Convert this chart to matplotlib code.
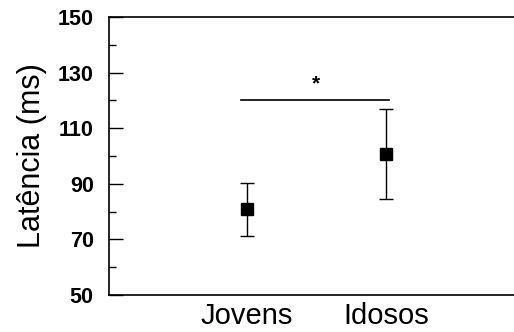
import matplotlib
matplotlib.use("Agg")
import matplotlib.pyplot as plt
from matplotlib.ticker import MultipleLocator

plt.rcParams['font.family'] = ['Liberation Sans', 'DejaVu Sans']

categories = ["Jovens", "Idosos"]
means = [80.9, 100.8]
err_low = [71.2, 84.6]
err_high = [90.3, 116.8]
sig_level = 120
sig_label = "*"
yticks = [50, 70, 90, 110, 130, 150]

fig = plt.figure(figsize=(5.14, 3.32), dpi=100)
ax = fig.add_axes([109/514, 37/332, 1 - 109/514, 278/332])

xs = [1, 2]
lower = [m - l for m, l in zip(means, err_low)]
upper = [h - m for m, h in zip(means, err_high)]
ax.errorbar(xs, means, yerr=[lower, upper], fmt='s', color='black',
            markersize=9, capsize=5, elinewidth=1.0, capthick=1.0, ecolor='black')

ax.plot([xs[0] - 0.045, xs[1] + 0.02], [sig_level, sig_level], color='black', lw=1.2)
ax.text((xs[0] + xs[1]) / 2, sig_level + 6, sig_label, ha='center', va='center',
        fontsize=15, fontweight='bold')

ax.set_xlim(0.01, 2.92)
ax.set_ylim(50, 150)
ax.set_xticks(xs)
ax.set_xticklabels(categories, fontsize=21)
ax.set_yticks(yticks)
ax.set_yticklabels([str(v) for v in yticks], fontsize=15.5, fontweight='bold')
ax.yaxis.set_minor_locator(MultipleLocator(10))
ax.tick_params(axis='y', which='major', direction='in', length=10, width=1.0, pad=11)
ax.tick_params(axis='y', which='minor', direction='in', length=5, width=1.0)
ax.tick_params(axis='x', length=0, pad=5)
ax.spines['right'].set_visible(False)
for s in ['left', 'bottom', 'top']:
    ax.spines[s].set_linewidth(1.2)
ax.set_ylabel("Latência (ms)", fontsize=22, labelpad=8)

fig.savefig("out.png", dpi=100)
